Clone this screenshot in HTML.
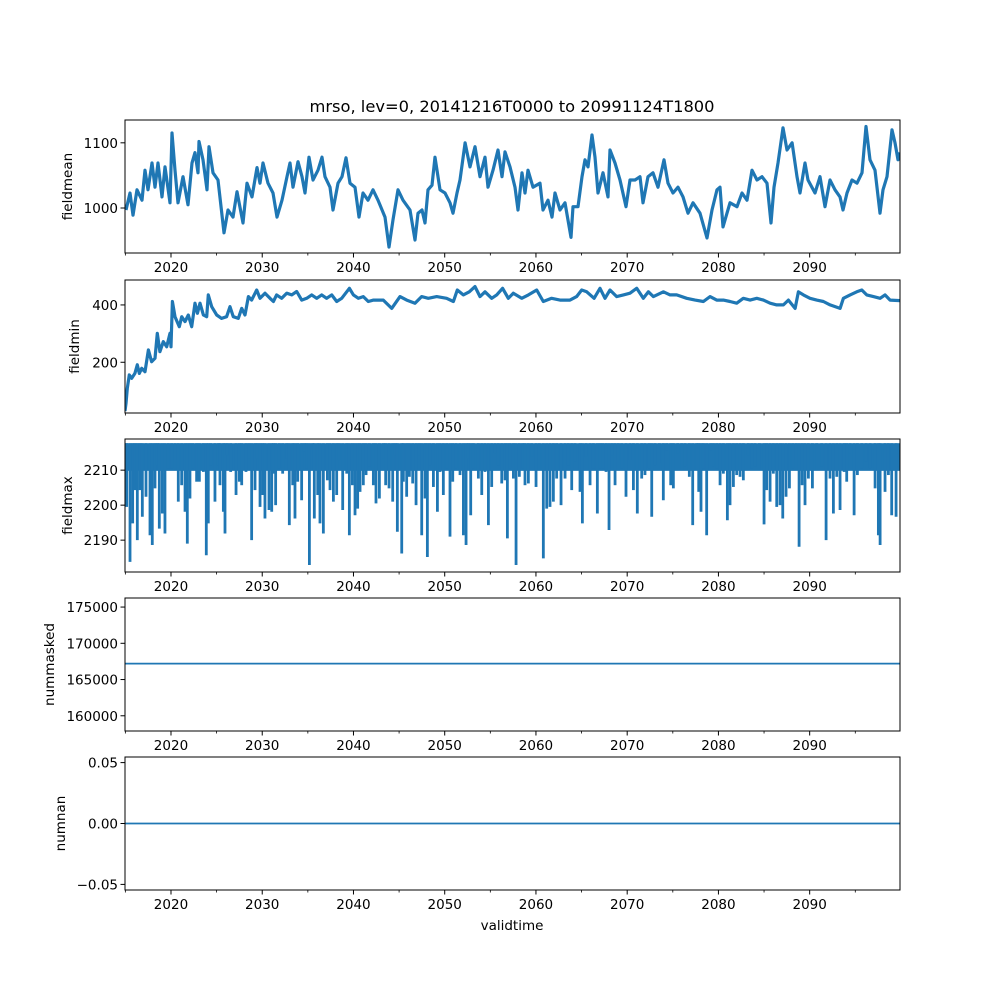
<!DOCTYPE html>
<html><head><meta charset="utf-8">
<style>
html,body{margin:0;padding:0;background:#fff;}
svg{display:block;font-family:"DejaVu Sans","Liberation Sans",sans-serif;}
</style></head>
<body>
<svg id="fig" width="1000" height="1000" viewBox="0 0 1000 1000">
<rect width="1000" height="1000" fill="#fff"/>
<text x="512" y="112" font-size="16.3" text-anchor="middle">mrso, lev=0, 20141216T0000 to 20991124T1800</text>
<text x="512" y="930" font-size="13.5" text-anchor="middle">validtime</text>
</svg>
<script>
// ---- data ----
const xDomain = [2014.96, 2099.9];
const majorTicks = [2020, 2030, 2040, 2050, 2060, 2070, 2080, 2090];
const minorTicks = [2015, 2025, 2035, 2045, 2055, 2065, 2075, 2085, 2095];

const meanYears = [2015.07,2015.51,2015.84,2016.28,2016.82,2017.15,2017.48,2017.92,2018.25,2018.58,2019.02,2019.34,2019.89,2020.11,2020.44,2020.77,2021.32,2021.86,2022.30,2022.63,2022.96,2023.07,2023.51,2023.95,2024.17,2024.61,2025.15,2025.81,2026.25,2026.80,2027.23,2027.89,2028.33,2028.88,2029.43,2029.76,2030.09,2030.63,2031.18,2031.62,2032.17,2032.72,2033.04,2033.37,2033.92,2034.36,2034.69,2035.13,2035.57,2036.11,2036.55,2036.88,2037.43,2037.76,2038.31,2038.74,2039.18,2039.62,2040.17,2040.61,2041.05,2041.59,2042.14,2042.69,2043.46,2043.89,2044.33,2044.88,2045.43,2046.20,2046.74,2047.07,2047.51,2047.84,2048.17,2048.61,2048.94,2049.48,2050.03,2050.58,2050.91,2051.35,2051.68,2052.23,2052.77,2053.32,2053.87,2054.42,2054.75,2055.29,2055.84,2056.28,2056.61,2057.16,2057.70,2058.03,2058.47,2058.80,2059.13,2059.68,2060.44,2060.77,2061.32,2061.76,2062.09,2062.64,2063.18,2063.84,2064.06,2064.61,2065.05,2065.38,2065.71,2066.14,2066.47,2066.80,2067.35,2067.90,2068.12,2068.66,2069.21,2069.87,2070.31,2070.86,2071.40,2071.73,2072.28,2072.83,2073.38,2074.03,2074.47,2075.02,2075.57,2076.12,2076.67,2077.21,2077.98,2078.75,2079.30,2079.84,2080.17,2080.50,2081.27,2082.04,2082.58,2083.13,2083.68,2084.23,2084.78,2085.32,2085.76,2086.09,2086.53,2087.08,2087.52,2088.07,2088.61,2088.94,2089.49,2089.82,2090.58,2091.13,2091.68,2092.23,2092.78,2093.32,2093.65,2094.09,2094.64,2095.19,2095.74,2096.17,2096.61,2097.16,2097.71,2098.04,2098.48,2099.02,2099.35,2099.68,2099.9];
const meanValues = [997,1023,989,1028,1012,1058,1028,1069,1032,1069,1017,1063,1008,1115,1058,1008,1048,1005,1069,1085,1054,1102,1074,1028,1094,1054,1043,962,997,986,1025,977,1038,1017,1062,1038,1069,1038,1023,986,1012,1048,1069,1032,1071,1048,1023,1078,1043,1058,1078,1048,1032,997,1038,1048,1077,1038,1032,986,1023,1012,1028,1012,986,940,982,1028,1012,997,951,992,997,977,1028,1035,1078,1028,1023,1008,992,1023,1043,1100,1063,1094,1048,1078,1032,1058,1089,1048,1086,1063,1032,997,1054,1023,1058,1032,1038,997,1012,986,1023,997,1008,955,1002,1002,1048,1074,1063,1112,1078,1023,1054,1017,1089,1069,1043,1002,1043,1043,1048,1008,1048,1054,1032,1074,1038,1023,1032,1017,992,1008,992,954,997,1028,1032,971,1008,1002,1023,1012,1058,1043,1048,1038,977,1032,1069,1123,1089,1100,1048,1023,1069,1043,1023,1048,1002,1043,1028,1017,997,1023,1043,1038,1054,1125,1074,1058,992,1028,1048,1120,1100,1074,1085];

const minYears = [2014.96,2015.07,2015.21,2015.43,2015.69,2016.05,2016.31,2016.53,2016.79,2017.15,2017.52,2017.88,2018.25,2018.50,2018.79,2019.16,2019.53,2019.89,2020.00,2020.15,2020.44,2020.91,2021.17,2021.54,2021.90,2022.27,2022.63,2022.89,2023.18,2023.55,2023.91,2024.09,2024.46,2025.01,2025.55,2026.10,2026.47,2026.83,2027.38,2027.75,2028.11,2028.48,2028.84,2029.39,2029.76,2030.30,2030.85,2031.22,2031.58,2032.13,2032.68,2033.23,2033.78,2034.33,2034.87,2035.42,2035.97,2036.52,2037.06,2037.61,2038.16,2038.71,2039.55,2039.99,2040.54,2041.08,2041.63,2042.20,2043.27,2044.19,2045.10,2045.83,2046.74,2047.47,2048.20,2049.12,2050.21,2050.95,2051.38,2052.04,2052.70,2053.32,2053.87,2054.42,2055.15,2055.70,2056.35,2056.97,2057.52,2058.44,2059.17,2060.08,2060.81,2061.72,2062.64,2063.73,2064.46,2065.01,2065.56,2066.37,2067.02,2067.57,2068.12,2068.85,2069.58,2070.31,2071.04,2071.77,2072.32,2072.87,2073.97,2074.70,2075.43,2076.52,2077.44,2078.35,2079.08,2079.81,2080.54,2081.27,2082.00,2082.73,2083.47,2084.20,2084.93,2085.66,2086.39,2087.12,2087.67,2088.40,2088.76,2089.31,2090.04,2090.77,2091.50,2092.24,2093.33,2093.70,2094.43,2095.16,2095.71,2096.25,2096.99,2097.72,2098.26,2098.81,2099.9];
const minValues = [30,57,109,156,144,161,191,161,179,167,243,202,214,301,237,272,254,301,254,412,359,324,359,342,365,324,406,371,406,365,359,435,394,365,353,359,394,359,353,388,365,429,417,452,423,441,423,412,435,423,441,435,447,417,423,435,423,435,423,435,412,423,458,435,423,429,412,417,417,388,429,417,406,429,423,429,423,412,452,435,446,464,429,446,423,435,458,423,441,423,435,452,412,423,417,417,429,452,446,423,458,423,452,429,435,441,458,423,446,429,446,435,435,423,417,412,429,417,417,412,406,423,417,423,417,406,400,400,417,388,446,435,423,417,412,400,388,423,435,446,452,435,429,423,435,417,415];

const maxTop = 2217.7;
const maxBandFloor = 2209.8;
const spikeYears = [2015.14,2015.51,2015.80,2016.05,2016.31,2016.60,2016.86,2017.26,2017.70,2017.95,2018.25,2018.50,2018.72,2019.05,2019.34,2019.71,2020.07,2020.44,2020.80,2021.17,2021.54,2021.79,2022.08,2022.38,2022.81,2023.11,2023.55,2023.87,2024.09,2024.35,2024.82,2025.19,2025.37,2025.74,2025.92,2026.18,2026.54,2027.13,2027.49,2027.75,2028.22,2028.55,2028.84,2029.21,2029.46,2029.76,2030.05,2030.30,2030.74,2031.04,2031.22,2031.47,2031.88,2032.24,2032.68,2032.97,2033.34,2033.59,2033.89,2034.32,2034.62,2034.87,2035.17,2035.53,2035.71,2036.08,2036.33,2036.70,2037.14,2037.43,2037.80,2038.16,2038.45,2038.82,2039.26,2039.55,2039.88,2040.17,2040.46,2040.72,2041.08,2041.38,2041.74,2042.18,2042.47,2042.84,2043.28,2043.53,2043.90,2044.30,2044.59,2044.81,2045.29,2045.47,2045.83,2046.13,2046.49,2046.86,2047.19,2047.48,2047.84,2048.10,2048.39,2048.76,2049.20,2049.49,2049.85,2050.22,2050.58,2050.88,2051.24,2051.68,2052.05,2052.34,2052.59,2052.85,2053.14,2053.69,2054.06,2054.42,2054.79,2055.15,2055.52,2055.88,2056.25,2056.61,2056.87,2057.16,2057.53,2057.82,2058.18,2058.54,2058.80,2059.17,2059.53,2060.01,2060.37,2060.81,2061.18,2061.54,2061.91,2062.27,2062.75,2063.19,2063.55,2063.92,2064.28,2064.83,2065.09,2065.49,2065.93,2066.29,2066.73,2067.02,2067.31,2067.68,2068.01,2068.34,2068.67,2069.03,2069.40,2069.87,2070.31,2070.68,2071.11,2071.59,2071.95,2072.39,2072.69,2073.05,2073.53,2073.96,2074.33,2074.77,2075.06,2075.54,2075.97,2076.34,2076.81,2077.18,2077.62,2077.84,2078.09,2078.35,2078.71,2079.15,2079.45,2079.81,2080.18,2080.54,2080.98,2081.27,2081.64,2082.00,2082.37,2082.73,2083.28,2083.65,2084.01,2084.49,2085.00,2085.29,2085.66,2086.02,2086.39,2086.75,2087.05,2087.41,2087.78,2088.14,2088.51,2088.84,2089.17,2089.49,2089.86,2090.30,2090.77,2091.32,2091.80,2092.23,2092.60,2092.97,2093.33,2093.77,2094.06,2094.43,2094.87,2095.23,2095.71,2096.18,2096.62,2097.17,2097.53,2097.72,2098.26,2098.63,2098.99,2099.47];
const spikeValues = [2199.5,2183.8,2194.8,2204.3,2190.0,2204.3,2196.7,2202.4,2191.4,2188.6,2204.8,2211.4,2193.3,2197.6,2191.9,2210.5,2210.5,2212.9,2201.0,2205.7,2198.1,2189.0,2201.9,2210.5,2206.7,2206.7,2209.5,2185.7,2194.8,2211.4,2201.0,2211.4,2205.7,2198.1,2191.9,2214.3,2209.5,2202.9,2206.7,2205.7,2209.5,2213.3,2190.0,2204.3,2213.3,2199.5,2202.9,2196.2,2198.6,2198.1,2209.0,2200.0,2210.5,2209.0,2213.3,2194.3,2205.7,2196.2,2206.7,2201.4,2215.2,2210.5,2182.9,2216.2,2196.2,2202.9,2194.8,2191.9,2207.1,2204.3,2201.0,2202.9,2212.9,2198.6,2209.0,2191.4,2205.7,2197.1,2199.0,2203.8,2205.7,2208.6,2211.0,2205.7,2200.5,2201.9,2213.3,2205.7,2204.8,2201.0,2214.3,2192.4,2186.2,2206.7,2202.4,2208.1,2206.2,2200.0,2214.3,2191.4,2201.9,2185.2,2211.4,2205.2,2198.1,2209.5,2202.9,2210.5,2191.0,2206.7,2210.5,2208.6,2191.4,2188.6,2213.3,2197.1,2210.5,2207.6,2202.9,2209.5,2194.3,2205.2,2214.8,2211.4,2206.2,2207.1,2190.5,2210.5,2207.6,2182.9,2208.1,2210.5,2205.7,2206.2,2213.8,2205.2,2210.0,2184.8,2199.0,2199.5,2201.0,2207.6,2200.0,2207.6,2211.4,2204.3,2212.4,2203.8,2194.8,2213.8,2205.7,2210.5,2197.6,2210.5,2210.5,2209.5,2192.9,2214.3,2205.7,2212.9,2210.5,2202.4,2212.9,2204.3,2197.6,2207.6,2208.6,2210.5,2196.7,2211.4,2211.9,2201.4,2215.7,2205.7,2204.8,2214.8,2210.0,2211.0,2208.1,2194.3,2210.0,2203.8,2198.1,2210.5,2191.4,2215.7,2211.0,2210.5,2205.7,2209.0,2195.7,2200.0,2205.2,2208.6,2208.1,2207.1,2214.3,2210.5,2211.0,2210.0,2194.5,2204.3,2201.0,2209.0,2199.5,2200.0,2196.2,2202.4,2204.8,2210.5,2212.9,2188.1,2205.7,2200.0,2207.6,2204.8,2210.0,2211.0,2190.0,2207.6,2197.6,2208.1,2198.6,2209.5,2206.7,2214.8,2197.1,2208.6,2210.5,2212.4,2210.5,2204.8,2191.4,2188.6,2203.8,2208.6,2197.1,2196.7];

const maskedValue = 167200;
const nanValue = 0;

const panels = [
  {name:'fieldmean', top:120, bottom:253, ymin:931, ymax:1135, ticks:[1000,1100], labels:['1000','1100'], labelX:72},
  {name:'fieldmin', top:280, bottom:413, ymin:23, ymax:487, ticks:[200,400], labels:['200','400'], labelX:79},
  {name:'fieldmax', top:439, bottom:572, ymin:2180.9, ymax:2218.9, ticks:[2190,2200,2210], labels:['2190','2200','2210'], labelX:72},
  {name:'nummasked', top:598, bottom:731, ymin:157900, ymax:176250, ticks:[160000,165000,170000,175000], labels:['160000','165000','170000','175000'], labelX:54},
  {name:'numnan', top:757, bottom:890, ymin:-0.0546, ymax:0.0546, ticks:[-0.05,0,0.05], labels:['\u22120.05','0.00','0.05'], labelX:65}
];
// ---- drawing ----
const NS = 'http://www.w3.org/2000/svg';
const svg = document.getElementById('fig');
const L = 125, R = 900, BLUE = '#1f77b4';
function xs(yr){ return L + (yr - xDomain[0]) / (xDomain[1] - xDomain[0]) * (R - L); }
function mk(tag, attrs, parent){ const e = document.createElementNS(NS, tag); for (const k in attrs) e.setAttribute(k, attrs[k]); (parent||svg).appendChild(e); return e; }

panels.forEach((p, i) => {
  const ys = v => p.bottom - (v - p.ymin) / (p.ymax - p.ymin) * (p.bottom - p.top);
  const g = mk('g', {});
  
  
  const clipId = 'clip' + i;
  const cp = mk('clipPath', {id: clipId}, g);
  mk('rect', {x: L, y: p.top, width: R - L, height: p.bottom - p.top}, cp);
  const plot = mk('g', {'clip-path': 'url(#' + clipId + ')'}, g);
  
  

  if (i === 0 || i === 1) {
    const yrs = i === 0 ? meanYears : minYears;
    const vals = i === 0 ? meanValues : minValues;
    const d = yrs.map((y, k) => (k ? 'L' : 'M') + xs(y).toFixed(1) + ' ' + ys(vals[k]).toFixed(1)).join(' ');
    const path = mk('path', {d: d, fill: 'none', stroke: BLUE, 'stroke-width': 3.2, 'stroke-linejoin': 'round'}, plot);
    
    
  } else if (i === 2) {
    const band = mk('rect', {x: xs(xDomain[0]), y: ys(maxTop), width: xs(xDomain[1]) - xs(xDomain[0]), height: ys(maxBandFloor) - ys(maxTop), fill: BLUE}, plot);
    
    
    spikeYears.forEach((y, k) => {
      const ln = mk('line', {x1: xs(y), x2: xs(y), y1: ys(maxTop), y2: ys(spikeValues[k]), stroke: BLUE, 'stroke-width': 2.8}, plot);
      
      
    });
  } else {
    const v = i === 3 ? maskedValue : nanValue;
    const ln = mk('line', {x1: xs(xDomain[0]), x2: xs(xDomain[1]), y1: ys(v), y2: ys(v), stroke: BLUE, 'stroke-width': 1.8}, plot);
    
    
  }

  const frame = mk('rect', {x: L, y: p.top, width: R - L, height: p.bottom - p.top, fill: 'none', stroke: '#000', 'stroke-width': 1}, g);
  
  

  p.ticks.forEach((t, k) => {
    const y = ys(t);
    mk('line', {x1: L - 4.5, x2: L, y1: y, y2: y, stroke: '#000', 'stroke-width': 1}, g);
    const tx = mk('text', {x: L - 7, y: y + 5, 'font-size': 13.5, 'text-anchor': 'end'}, g);
    tx.textContent = p.labels[k];
    
    
  });
  majorTicks.forEach(t => {
    const x = xs(t);
    mk('line', {x1: x, x2: x, y1: p.bottom, y2: p.bottom + 4.5, stroke: '#000', 'stroke-width': 1}, g);
    const tx = mk('text', {x: x, y: p.bottom + 19, 'font-size': 13.5, 'text-anchor': 'middle'}, g);
    tx.textContent = String(t);
    
    
  });
  minorTicks.forEach(t => {
    const x = xs(t);
    mk('line', {x1: x, x2: x, y1: p.bottom, y2: p.bottom + 2.5, stroke: '#000', 'stroke-width': 0.8}, g);
  });
  const cy = (p.top + p.bottom) / 2;
  const yl = mk('text', {x: p.labelX, y: cy, 'font-size': 13.5, 'text-anchor': 'middle', transform: 'rotate(-90 ' + p.labelX + ' ' + cy + ')'}, g);
  yl.textContent = p.name;
  
  
});
</script>
</body></html>
